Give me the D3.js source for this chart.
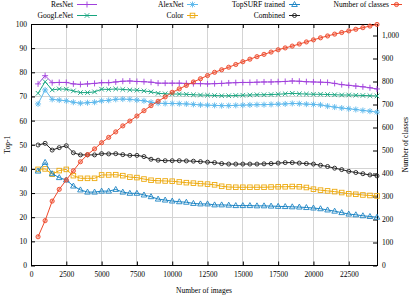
<!DOCTYPE html>
<html lang="en">
<head>
    <meta charset="UTF-8">
    <title>Top-1 vs number of images</title>
    <script src="https://d3js.org/d3.v7.min.js"></script>
    <style>
        body { margin: 0; padding: 0; background: #fff; }
        svg { display: block; font-family: "Liberation Serif", "DejaVu Serif", serif; }
        .tick text { font-size: 7.5px; fill: #000; font-family: "Liberation Serif", serif; }
        .tick line { stroke: #000; }
        .domain { display: none; }
        .grid line { stroke: #d4d4d4; stroke-width: 1; shape-rendering: crispEdges; }
        .lbl { font-size: 7.5px; fill: #000; }
    </style>
</head>
<body>
<div id="chart"></div>
<script>
    const images = [500, 1000, 1500, 2000, 2500, 3000, 3500, 4000, 4500, 5000, 5500, 6000, 6500, 7000, 7500,
        8000, 8500, 9000, 9500, 10000, 10500, 11000, 11500, 12000, 12500, 13000, 13500, 14000, 14500, 15000,
        15500, 16000, 16500, 17000, 17500, 18000, 18500, 19000, 19500, 20000, 20500, 21000, 21500, 22000,
        22500, 23000, 23500, 24000, 24500];

    const resnet = [75.2, 78.6, 75.7, 75.8, 75.8, 75.2, 75.0, 75.2, 75.4, 75.7, 75.7, 76.0, 76.3, 76.4, 76.2,
        76.1, 75.9, 75.5, 75.5, 75.5, 75.5, 75.4, 75.3, 75.3, 75.2, 75.3, 75.4, 75.6, 75.7, 75.8,
        75.8, 75.9, 76.0, 76.0, 76.1, 76.2, 76.4, 76.3, 76.1, 76.0, 75.9, 75.8, 75.4, 74.9,
        74.6, 74.3, 74.0, 73.6, 73.1];
    const googlenet = [71.3, 76.1, 72.7, 73.1, 73.0, 72.3, 71.6, 71.6, 71.9, 73.0, 72.9, 73.1, 72.9, 72.7, 72.6,
        72.3, 71.9, 71.3, 71.1, 71.0, 71.0, 70.9, 70.7, 70.6, 70.5, 70.4, 70.3, 70.3, 70.4, 70.5,
        70.6, 70.7, 70.7, 70.8, 70.9, 71.1, 71.3, 71.1, 71.0, 70.9, 70.9, 70.8, 70.7, 70.6,
        70.6, 70.5, 70.4, 70.3, 70.2];
    const alexnet = [66.9, 72.7, 68.8, 68.5, 68.2, 67.6, 67.2, 67.4, 67.6, 68.2, 68.4, 68.8, 68.9, 68.8, 68.5,
        68.2, 67.6, 67.2, 67.1, 67.1, 67.0, 66.9, 66.7, 66.5, 66.4, 66.3, 66.2, 66.2, 66.3, 66.4,
        66.5, 66.6, 66.6, 66.7, 66.8, 66.9, 67.1, 67.0, 66.8, 66.7, 66.5, 66.0, 65.6, 65.2,
        64.9, 64.6, 64.2, 63.9, 63.5];
    const topsurf = [39.1, 42.7, 38.0, 36.4, 35.4, 32.9, 31.3, 30.4, 30.4, 30.8, 30.8, 31.5, 30.4, 29.9, 29.9,
        29.2, 28.5, 27.5, 27.1, 26.7, 26.4, 26.2, 25.7, 25.5, 25.5, 25.1, 25.1, 25.0, 24.8, 24.8,
        24.8, 24.7, 24.7, 24.6, 24.5, 24.4, 24.3, 24.2, 24.0, 23.8, 23.5, 23.0, 22.5, 21.9,
        21.3, 21.0, 20.6, 20.3, 20.0];
    const color = [39.8, 40.0, 37.8, 39.3, 39.8, 37.2, 36.1, 36.1, 36.1, 37.5, 37.5, 37.6, 37.2, 36.6, 36.4,
        35.8, 35.3, 35.1, 35.0, 34.9, 34.6, 34.3, 34.1, 33.9, 33.7, 33.4, 32.8, 32.5, 32.4, 32.4,
        32.4, 32.4, 32.4, 32.5, 32.6, 32.6, 32.7, 32.6, 32.3, 31.6, 31.2, 30.9, 30.6, 30.2,
        29.7, 29.5, 29.2, 29.0, 28.8];
    const combined = [49.9, 50.6, 47.8, 48.8, 49.6, 46.7, 45.8, 45.8, 45.8, 46.3, 46.2, 46.3, 45.9, 45.6, 45.6,
        45.1, 44.0, 43.6, 43.4, 43.4, 43.4, 43.3, 43.2, 43.0, 42.8, 42.6, 42.2, 42.0, 42.0, 42.0,
        42.0, 42.0, 42.1, 42.2, 42.4, 42.6, 42.6, 42.4, 42.2, 42.0, 41.5, 41.0, 40.3, 39.7,
        39.0, 38.5, 38.0, 37.5, 37.1];
    const classes = [125, 195, 280, 331, 372, 412, 451, 482, 507, 534, 557, 581, 607, 628, 650,
        673, 695, 714, 733, 753, 768, 783, 798, 812, 826, 840, 851, 862, 874, 886,
        897, 908, 918, 928, 938, 946, 954, 963, 972, 981, 990, 998, 1006, 1013,
        1020, 1027, 1034, 1041, 1048];

    const xTicks = [0, 2500, 5000, 7500, 10000, 12500, 15000, 17500, 20000, 22500];
    const yTicks = [0, 10, 20, 30, 40, 50, 60, 70, 80, 90, 100];
    const y2Ticks = [0, 100, 200, 300, 400, 500, 600, 700, 800, 900, 1000];

    const W = 415, H = 296;
    const plotLeft = 31, plotRight = 377, plotTop = 24, plotBottom = 265.5;

    const svg = d3.select("#chart").append("svg")
        .attr("width", W)
        .attr("height", H);

    const x = d3.scaleLinear().domain([0, 24500]).range([plotLeft, plotRight]);
    const y = d3.scaleLinear().domain([0, 100]).range([plotBottom, plotTop]);
    const y2 = d3.scaleLinear().domain([0, 1050]).range([plotBottom, plotTop]);

    // grid
    const grid = svg.append("g").attr("class", "grid");
    grid.selectAll("line.v")
        .data(xTicks.filter(t => t > 0))
        .enter().append("line")
        .attr("x1", d => x(d)).attr("x2", d => x(d))
        .attr("y1", plotTop).attr("y2", plotBottom);
    grid.selectAll("line.h")
        .data(yTicks.filter(t => t > 0 && t < 100))
        .enter().append("line")
        .attr("x1", plotLeft).attr("x2", plotRight)
        .attr("y1", d => y(d)).attr("y2", d => y(d));

    // axes (inward ticks like gnuplot)
    svg.append("g")
        .attr("transform", `translate(0,${plotBottom})`)
        .call(d3.axisBottom(x).tickValues(xTicks).tickFormat(d3.format("d")).tickSizeInner(-4).tickSizeOuter(0).tickPadding(6));
    svg.append("g")
        .attr("transform", `translate(0,${plotTop})`)
        .call(d3.axisTop(x).tickValues(xTicks).tickFormat("").tickSizeInner(-4).tickSizeOuter(0));
    svg.append("g")
        .attr("transform", `translate(${plotLeft},0)`)
        .call(d3.axisLeft(y).tickValues(yTicks).tickSizeInner(-4).tickSizeOuter(0).tickPadding(4));
    svg.append("g")
        .attr("transform", `translate(${plotRight},0)`)
        .call(d3.axisRight(y2).tickValues(y2Ticks).tickSizeInner(-4).tickSizeOuter(0).tickPadding(5));

    // border
    svg.append("rect")
        .attr("x", plotLeft).attr("y", plotTop)
        .attr("width", plotRight - plotLeft).attr("height", plotBottom - plotTop)
        .attr("fill", "none").attr("stroke", "#000").attr("stroke-width", 1)
        .attr("shape-rendering", "crispEdges");

    // markers
    function drawMarker(g, type, c) {
        if (type === "plus") {
            g.append("path").attr("d", "M-3,0H3M0,-3V3").attr("stroke", c).attr("fill", "none");
        } else if (type === "cross") {
            g.append("path").attr("d", "M-2.3,-2.3L2.3,2.3M-2.3,2.3L2.3,-2.3").attr("stroke", c).attr("fill", "none");
        } else if (type === "star") {
            g.append("path").attr("d", "M-3,0H3M0,-3V3M-2.2,-2.2L2.2,2.2M-2.2,2.2L2.2,-2.2").attr("stroke", c).attr("fill", "none");
        } else if (type === "square") {
            g.append("rect").attr("x", -2.3).attr("y", -2.3).attr("width", 4.6).attr("height", 4.6)
                .attr("stroke", c).attr("fill", "none");
        } else if (type === "triangle") {
            g.append("path").attr("d", "M0,-3L2.8,2L-2.8,2Z").attr("stroke", c).attr("fill", "none");
        } else if (type === "circle") {
            g.append("circle").attr("r", 2).attr("stroke", c).attr("fill", "none");
        } else if (type === "dot") {
            g.append("circle").attr("r", 2.1).attr("stroke", c).attr("fill", c).attr("fill-opacity", 0.35);
        }
    }

    const series = [
        { name: "ResNet", values: resnet, axis: y, color: "#a040dc", marker: "plus" },
        { name: "GoogLeNet", values: googlenet, axis: y, color: "#17a57f", marker: "cross" },
        { name: "AlexNet", values: alexnet, axis: y, color: "#5bb8ec", marker: "star" },
        { name: "Color", values: color, axis: y, color: "#edaa10", marker: "square" },
        { name: "TopSURF trained", values: topsurf, axis: y, color: "#1d85c4", marker: "triangle" },
        { name: "Combined", values: combined, axis: y, color: "#222", marker: "circle" },
        { name: "Number of classes", values: classes, axis: y2, color: "#ee4a2c", marker: "dot" }
    ];

    const plot = svg.append("g");
    series.forEach(s => {
        const pts = images.map((im, i) => [x(im), s.axis(s.values[i])]);
        plot.append("path")
            .attr("d", d3.line()(pts))
            .attr("fill", "none")
            .attr("stroke", s.color)
            .attr("stroke-width", 1);
        pts.forEach(p => {
            const g = plot.append("g").attr("transform", `translate(${p[0]},${p[1]})`)
                .attr("stroke-width", 0.9);
            drawMarker(g, s.marker, s.color);
        });
    });

    // legend (two rows, four columns)
    const legendItems = [
        { s: series[0], tx: 73, x1: 77, x2: 97, row: 0 },
        { s: series[1], tx: 73, x1: 77, x2: 97, row: 1 },
        { s: series[2], tx: 183.5, x1: 187, x2: 198, row: 0 },
        { s: series[3], tx: 183.5, x1: 187, x2: 198, row: 1 },
        { s: series[4], tx: 285, x1: 289, x2: 300, row: 0 },
        { s: series[5], tx: 285, x1: 289, x2: 300, row: 1 },
        { s: series[6], tx: 389, x1: 391, x2: 402, row: 0 }
    ];
    legendItems.forEach(it => {
        const cy = 4.5 + it.row * 11;
        svg.append("text").attr("class", "lbl")
            .attr("x", it.tx).attr("y", cy).attr("dy", "0.33em")
            .attr("text-anchor", "end")
            .text(it.s.name);
        svg.append("line")
            .attr("x1", it.x1).attr("x2", it.x2)
            .attr("y1", cy).attr("y2", cy)
            .attr("stroke", it.s.color).attr("stroke-width", 1);
        const g = svg.append("g").attr("transform", `translate(${(it.x1 + it.x2) / 2},${cy})`)
            .attr("stroke-width", 0.9);
        drawMarker(g, it.s.marker, it.s.color);
    });

    // axis titles
    svg.append("text").attr("class", "lbl")
        .attr("x", (plotLeft + plotRight) / 2).attr("y", 291).attr("dy", "0.33em")
        .attr("text-anchor", "middle")
        .text("Number of images");
    svg.append("text").attr("class", "lbl")
        .attr("transform", `translate(8,${(plotTop + plotBottom) / 2}) rotate(-90)`)
        .attr("dy", "0.33em")
        .attr("text-anchor", "middle")
        .text("Top-1");
    svg.append("text").attr("class", "lbl")
        .attr("transform", `translate(406,${(plotTop + plotBottom) / 2}) rotate(-90)`)
        .attr("dy", "0.33em")
        .attr("text-anchor", "middle")
        .text("Number of classes");
</script>
</body>
</html>
